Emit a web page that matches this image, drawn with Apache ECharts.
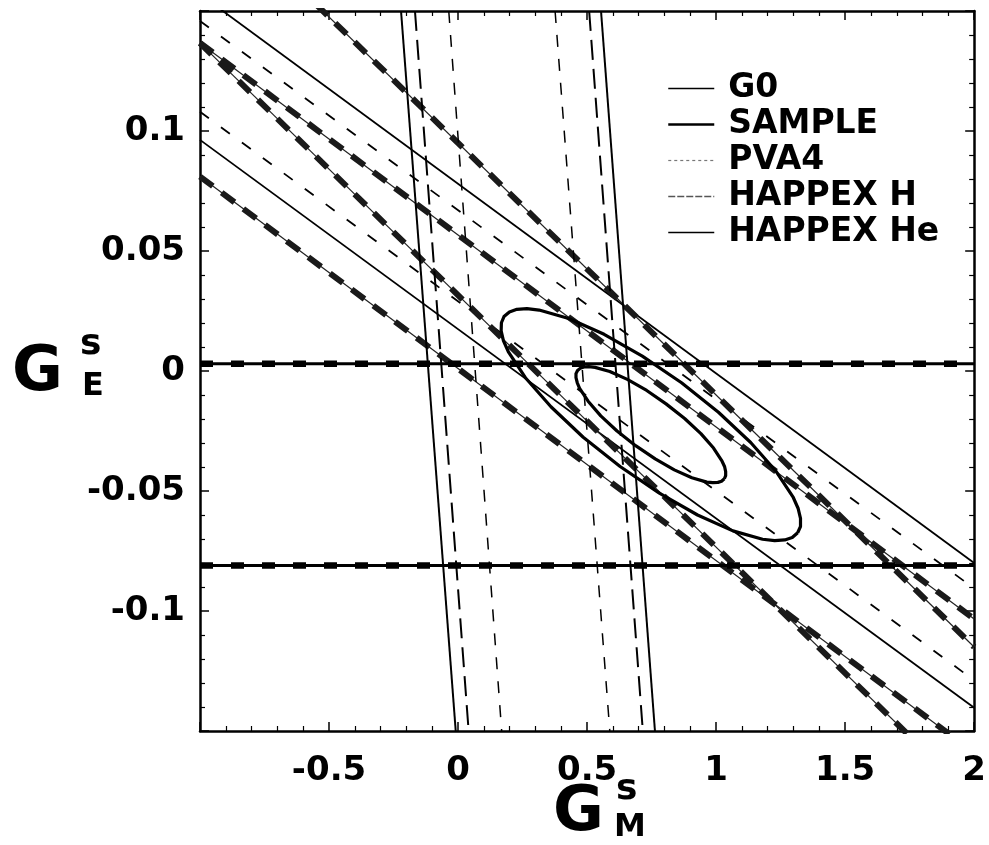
<!DOCTYPE html>
<html>
<head>
<meta charset="utf-8">
<title>G_E^s versus G_M^s</title>
<script src="https://cdn.jsdelivr.net/npm/echarts@6.0.0/dist/echarts.min.js"></script>
<style>
    html, body { margin: 0; padding: 0; background: #fff; }
    #box { width: 989px; height: 845px; }
</style>
</head>
<body>
<div id="box"></div>
<script>
// G_M^s at the left and right frame, used by the diagonal and flat bands
var gmEnds = [-1, 2];
// G_E^s at the top and bottom frame, used by the SAMPLE lines
var geEnds = [0.15, -0.15];

// diagonal bands: [G_E^s at G_M^s = -1, G_E^s at G_M^s = 2]
var g0Solid = [[0.157, -0.080], [0.0963, -0.1403]];
var g0Dashed = [[0.1458, -0.0906], [0.1080, -0.1289]];
var pva4 = [[0.200, -0.115], [0.1366, -0.1784]];
var happexH = [[0.1367, -0.1033], [0.0810, -0.1590]];

// SAMPLE: [G_M^s at top, G_M^s at bottom]
var sampleSolid = [[-0.221, -0.009], [0.554, 0.763]];
var sampleDashed = [[-0.167, 0.041], [0.508, 0.716]];
var sampleInner = [[-0.036, 0.169], [0.376, 0.588]];

// HAPPEX He: G_E^s of the two horizontal lines
var happexHe = [0.003, -0.081];

// fit contours, [G_M^s, G_E^s]
var contourInner = [
    [1.032, -0.0449], [1.037, -0.0436], [1.037, -0.0419], [1.033, -0.0399], [1.023, -0.0376],
    [0.990, -0.0321], [0.941, -0.0261], [0.878, -0.0198], [0.806, -0.0137], [0.731, -0.0081],
    [0.656, -0.0035], [0.588, -0.0002], [0.531, 0.0015], [0.507, 0.0018], [0.488, 0.0017],
    [0.473, 0.0011], [0.463, 0.0002], [0.457, -0.0011], [0.457, -0.0028], [0.462, -0.0049],
    [0.471, -0.0072], [0.504, -0.0126], [0.553, -0.0187], [0.616, -0.0250], [0.688, -0.0311],
    [0.764, -0.0366], [0.838, -0.0412], [0.906, -0.0445], [0.964, -0.0463], [0.987, -0.0465],
    [1.007, -0.0464], [1.021, -0.0459], [1.032, -0.0449]
];
var contourOuter = [
    [1.316, -0.0674], [1.327, -0.0648], [1.327, -0.0614], [1.318, -0.0573], [1.299, -0.0527],
    [1.233, -0.0419], [1.134, -0.0298], [1.009, -0.0172], [0.866, -0.0049], [0.714, 0.0062],
    [0.566, 0.0153], [0.429, 0.0219], [0.314, 0.0254], [0.267, 0.0260], [0.228, 0.0257],
    [0.199, 0.0246], [0.178, 0.0227], [0.168, 0.0201], [0.167, 0.0167], [0.176, 0.0126],
    [0.195, 0.0080], [0.261, -0.0028], [0.360, -0.0149], [0.485, -0.0276], [0.628, -0.0398],
    [0.780, -0.0509], [0.928, -0.0600], [1.065, -0.0666], [1.180, -0.0701], [1.227, -0.0707],
    [1.266, -0.0704], [1.295, -0.0694], [1.316, -0.0674]
];

// tick labels that are printed
var xLabels = [-0.5, 0, 0.5, 1, 1.5, 2];
var yLabels = [0.1, 0.05, 0, -0.05, -0.1];

var legendNames = ['G0', 'SAMPLE', 'PVA4', 'HAPPEX H', 'HAPPEX He'];

window.onload = function () {
    var myChart = echarts.init(document.getElementById('box'));
    var font = 'DejaVu Sans';
    var series = [];

    function add(name, data, style) {
        series.push({
            name: name,
            type: 'line',
            symbol: 'none',
            silent: true,
            color: '#000',
            itemStyle: { color: '#000' },
            data: data,
            lineStyle: style
        });
    }
    // lines running from the left to the right frame
    function diag(name, ends, styles) {
        ends.forEach(function (e) {
            styles.forEach(function (s) {
                add(name, [[gmEnds[0], e[0]], [gmEnds[1], e[1]]], s);
            });
        });
    }
    // lines running from the top to the bottom frame
    function steep(name, ends, style) {
        ends.forEach(function (e) {
            add(name, [[e[0], geEnds[0]], [e[1], geEnds[1]]], style);
        });
    }

    // the light coloured bands came out as blotchy dashes in the scan
    var heavy = [
        { color: '#222', width: 1.2 },
        { color: '#1a1a1a', width: 6, type: [16, 11] }
    ];

    diag('G0', g0Solid, [{ color: '#000', width: 1.8 }]);
    diag('G0', g0Dashed, [{ color: '#000', width: 1.8, type: [11, 15] }]);
    diag('PVA4', pva4, heavy);
    diag('HAPPEX H', happexH, heavy);

    steep('SAMPLE', sampleSolid, { color: '#000', width: 2 });
    steep('SAMPLE', sampleDashed, { color: '#000', width: 2, type: [20, 9] });
    steep('SAMPLE', sampleInner, { color: '#000', width: 1.5, type: [12, 12] });

    happexHe.forEach(function (v) {
        add('HAPPEX He', [[gmEnds[0], v], [gmEnds[1], v]], { color: '#000', width: 3 });
        add('HAPPEX He', [[gmEnds[0], v], [gmEnds[1], v]], { color: '#000', width: 6.5, type: [13, 18] });
    });

    add('contour 1', contourInner, { color: '#000', width: 3.2, join: 'round' });
    add('contour 2', contourOuter, { color: '#000', width: 3.2, join: 'round' });

    var axisCommon = {
        type: 'value',
        axisLine: { show: true, onZero: false, lineStyle: { color: '#000', width: 2.5 } },
        axisTick: { show: true, inside: true, length: 9, lineStyle: { color: '#000', width: 1.5 } },
        minorTick: { show: true, splitNumber: 5, length: 5, lineStyle: { color: '#000', width: 1.2 } },
        splitLine: { show: false },
        minorSplitLine: { show: false }
    };
    var labelStyle = {
        fontFamily: font,
        fontWeight: 'bold',
        fontSize: 34,
        color: '#000'
    };

    function pick(list, v) {
        for (var i = 0; i < list.length; i++) {
            if (Math.abs(list[i] - v) < 1e-6) {
                return String(list[i]);
            }
        }
        return '';
    }

    var hideSymbol = { opacity: 0 };
    var titleText = function (text, x, y, size) {
        return {
            type: 'text', x: x, y: y,
            style: { text: text, fontFamily: font, fontWeight: 'bold', fontSize: size, fill: '#000', verticalAlign: 'middle' }
        };
    };

    var option = {
        animation: false,
        backgroundColor: '#fff',
        grid: { left: 200, right: 11, top: 11, bottom: 114 },
        xAxis: [
            Object.assign({}, axisCommon, {
                min: -1, max: 2, interval: 0.5, position: 'bottom',
                axisLabel: Object.assign({ margin: 23, formatter: function (v) { return pick(xLabels, v); } }, labelStyle)
            }),
            Object.assign({}, axisCommon, {
                min: -1, max: 2, interval: 0.5, position: 'top',
                axisLabel: { show: false }
            })
        ],
        yAxis: [
            Object.assign({}, axisCommon, {
                min: -0.15, max: 0.15, interval: 0.05, position: 'left',
                axisLabel: Object.assign({ margin: 15, padding: [10, 0, 0, 0], formatter: function (v) { return pick(yLabels, v); } }, labelStyle)
            }),
            Object.assign({}, axisCommon, {
                min: -0.15, max: 0.15, interval: 0.05, position: 'right',
                axisLabel: { show: false }
            })
        ],
        legend: {
            orient: 'vertical',
            left: 662,
            top: 67,
            itemWidth: 46,
            itemHeight: 14,
            itemGap: 3,
            selectedMode: false,
            textStyle: {
                fontFamily: font,
                fontWeight: 'bold',
                fontSize: 33,
                lineHeight: 33,
                color: '#000',
                padding: [0, 0, 0, 9]
            },
            data: [
                { name: legendNames[0], itemStyle: hideSymbol, lineStyle: { color: '#000', width: 1.5, type: 'solid' } },
                { name: legendNames[1], itemStyle: hideSymbol, lineStyle: { color: '#000', width: 2.5, type: 'solid' } },
                { name: legendNames[2], itemStyle: hideSymbol, lineStyle: { color: '#777', width: 1.2, type: [3, 3] } },
                { name: legendNames[3], itemStyle: hideSymbol, lineStyle: { color: '#555', width: 1.5, type: [7, 2] } },
                { name: legendNames[4], itemStyle: hideSymbol, lineStyle: { color: '#000', width: 1.5, type: 'solid' } }
            ]
        },
        graphic: [
            titleText('G', 12, 374, 62),
            titleText('s', 80, 345, 36),
            titleText('E', 82, 387, 32),
            titleText('G', 553, 814, 62),
            titleText('s', 616, 790, 36),
            titleText('M', 614, 828, 32)
        ],
        series: series
    };
    myChart.setOption(option);
};
</script>
</body>
</html>
